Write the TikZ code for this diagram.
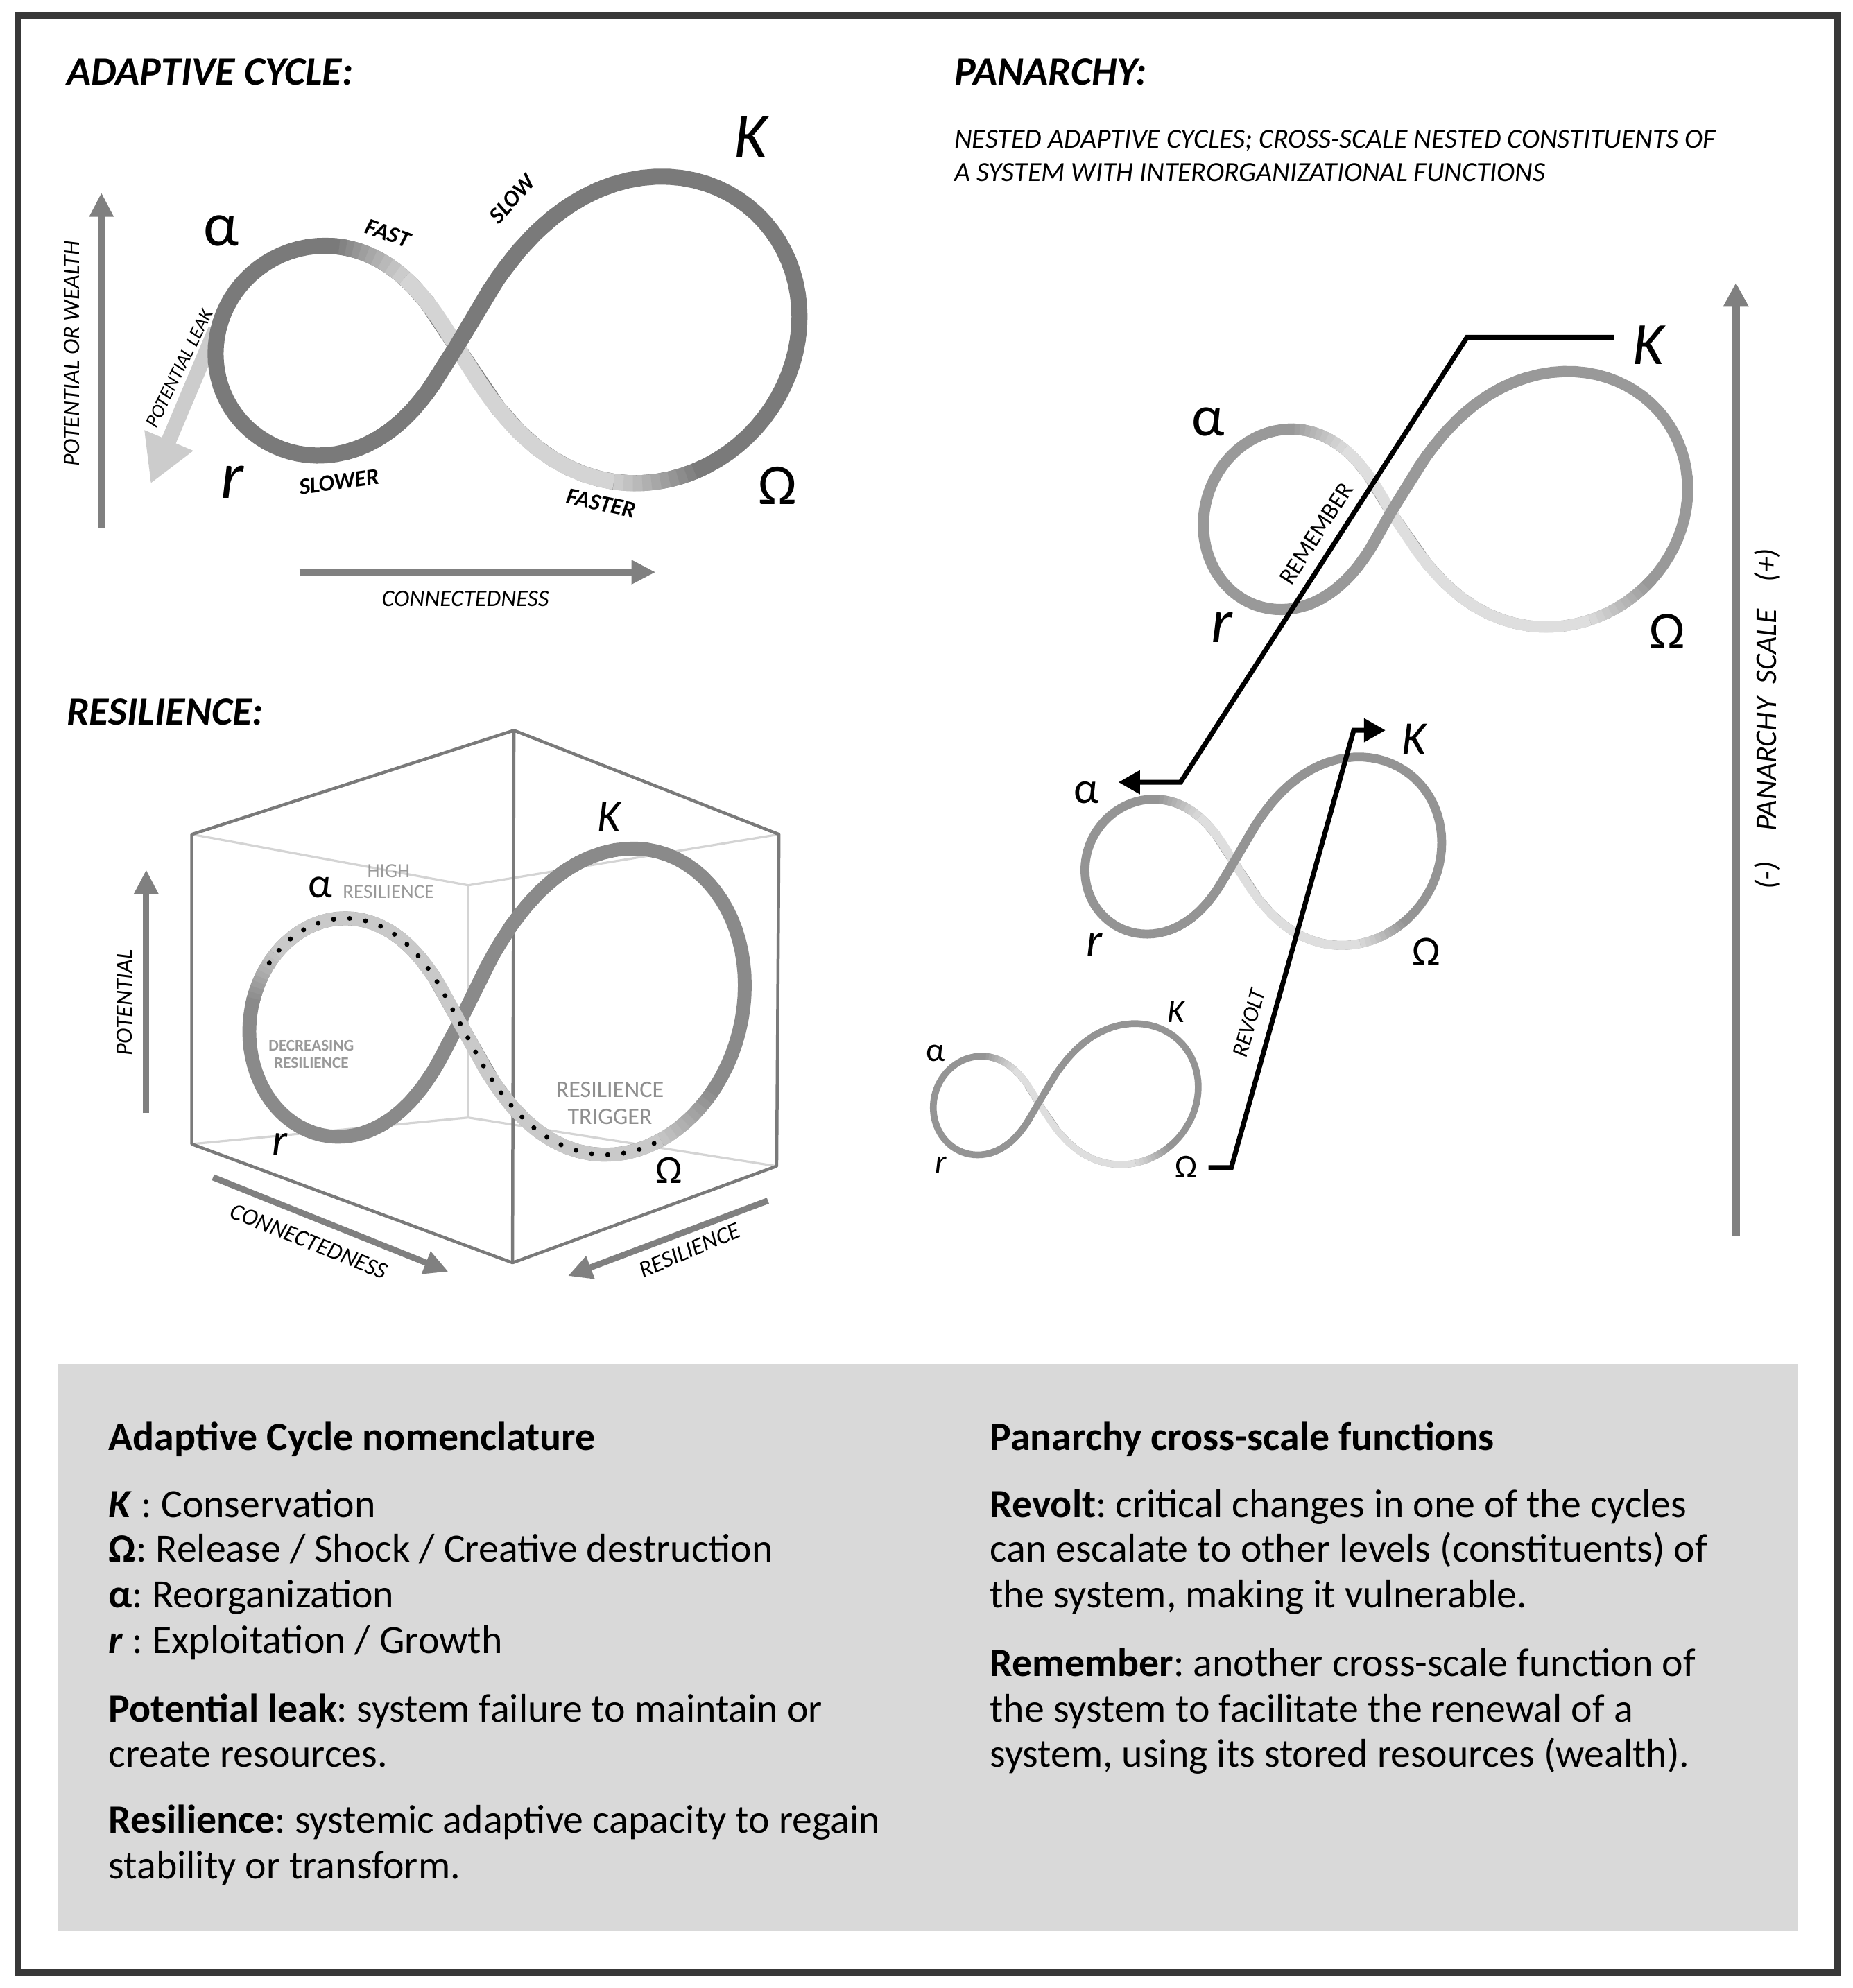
\documentclass[tikz,border=0pt]{standalone}
\usepackage{fontspec}
\setmainfont{Carlito}
\usetikzlibrary{arrows.meta}
\frenchspacing

% one lobe of the figure eight, the crossing at the origin
% #1 length (negative: left lobe), #2 height factor, #3 slant, #4:#5 lobe parameter
\newcommand{\lobe}[5]{plot[domain=#4:#5, variable=\ph] ({#1*sqrt(abs(cos(\ph)))*cos(2*\ph/3)}, {#1*sqrt(abs(cos(\ph)))*(#2*sin(2*\ph/3)+#3*cos(2*\ph/3))})}
\newcommand{\lobeto}[5]{-- plot[domain=#4:#5, variable=\ph] ({#1*sqrt(abs(cos(\ph)))*cos(2*\ph/3)}, {#1*sqrt(abs(cos(\ph)))*(#2*sin(2*\ph/3)+#3*cos(2*\ph/3))})}

% adaptive cycle loop: #1-#3 left lobe, #4-#6 right lobe, #7/#8 where the fast strand fades out
\newcommand{\cyclefig}[8]{%
  \draw[cdark, samples=61] \lobe{-#1}{#2}{#3}{-90}{90};
  \draw[cdark, samples=61] \lobe{#4}{#5}{#6}{-90}{90};
  \draw[clight, samples=25] \lobe{-#1}{#2}{#3}{-#7}{-90} \lobeto{#4}{#5}{#6}{-90}{-#8};
  \foreach \k in {1,...,10}{%
    \pgfmathtruncatemacro{\pct}{10*\k}%
    \pgfmathsetmacro{\fa}{-#7+2*\k-2}\pgfmathsetmacro{\fb}{-#7+2*\k+0.6}%
    \pgfmathsetmacro{\ga}{-#8+2*\k-2}\pgfmathsetmacro{\gb}{-#8+2*\k+0.6}%
    \draw[cdark!\pct!clight, samples=4] \lobe{-#1}{#2}{#3}{\fa}{\fb};
    \draw[cdark!\pct!clight, samples=4] \lobe{#4}{#5}{#6}{\ga}{\gb};
  }
  \draw[cdark, samples=13] \lobe{-#1}{#2}{#3}{66}{90} \lobeto{#4}{#5}{#6}{90}{66};
}

\tikzset{
  outerframe/.style={draw=black!78, line width=1.5pt},
  gaxis/.style={black!50, line width=1.4pt, -{Triangle[length=1.9mm,width=1.8mm]}},
  axislabel/.style={inner sep=0, font=\fontsize{5.3}{6}\selectfont\itshape},
  pace/.style={inner sep=0, font=\fontsize{5.2}{6}\selectfont\bfseries\itshape},
  stage/.style={inner sep=0, font=\fontsize{#1}{#1}\selectfont},
  heading/.style={anchor=base west, inner sep=0, font=\fontsize{9}{10}\selectfont\bfseries\itshape},
  subhead/.style={anchor=base west, inner sep=0, font=\fontsize{6.2}{7}\selectfont\itshape},
  body/.style={anchor=base west, inner sep=0, font=\fontsize{9}{10.1}\selectfont},
  crossscale/.style={black, line width=1.1pt, line join=miter, -{Triangle[length=1.7mm,width=1.8mm]}},
  cubeedge/.style={black!52, line width=0.7pt, line join=round},
  cubeback/.style={black!17, line width=0.5pt},
  resnote/.style={inner sep=0, align=center, text=black!40}
}

\begin{document}
\begin{tikzpicture}
\useasboundingbox (0,0) rectangle (14.61,15.68);
\draw[outerframe] (0.14,0.12) rectangle (14.49,15.56);
\fill[black!15] (0.46,0.45) rectangle (14.18,4.92);

% headings
\node[heading] (adhead) at (0.52,15.01) {ADAPTIVE CYCLE:};
\node[heading] (panhead) at (7.52,15.01) {PANARCHY:};
\node[subhead] (pansub1) at (7.52,14.51) {NESTED ADAPTIVE CYCLES; CROSS-SCALE NESTED CONSTITUENTS OF};
\node[subhead] (pansub2) at (7.52,14.25) {A SYSTEM WITH INTERORGANIZATIONAL FUNCTIONS};
\node[heading] (reshead) at (0.52,9.96) {RESILIENCE:};

% adaptive cycle
\coordinate (potlo) at (0.80,11.52);
\coordinate (pothi) at (0.80,14.16);
\draw[gaxis] (potlo) -- (pothi);
\node[axislabel, rotate=90] (potlab) at (0.567,12.89) {POTENTIAL OR WEALTH};
\coordinate (conlo) at (2.36,11.167);
\coordinate (conhi) at (5.17,11.167);
\draw[gaxis] (conlo) -- (conhi);
\node[axislabel] (conlab) at (3.67,10.957) {CONNECTEDNESS};
\coordinate (leaktop) at (1.70,13.08);
\coordinate (leaktip) at (1.188,11.865);
\draw[black!20, line width=3.4pt, -{Triangle[length=3.7mm,width=3.9mm]}] (leaktop) -- (leaktip);
\node[inner sep=0, font=\fontsize{4.3}{5}\selectfont\itshape, rotate=64] (leaklab) at (1.415,12.775) {POTENTIAL LEAK};
\begin{scope}[shift={(3.60,12.946)}, line width=3.6pt]
  \colorlet{cdark}{black!52}\colorlet{clight}{black!17}
  \cyclefig{1.90}{0.957}{0.03}{2.705}{0.979}{0.087}{82}{66}
\end{scope}
\node[pace, rotate=-20] (fast) at (3.06,13.84) {FAST};
\node[pace, rotate=48] (slow) at (4.04,14.11) {SLOW};
\node[pace, rotate=8] (slower) at (2.676,11.88) {SLOWER};
\node[pace, rotate=-12] (faster) at (4.74,11.71) {FASTER};
\node[stage=14] (aalpha) at (1.746,13.86) {α};
\node[stage=14.5] (akappa) at (5.93,14.60) {\textit{K}};
\node[stage=15] (ar) at (1.837,11.88) {\textit{r}};
\node[stage=13] (aomega) at (6.13,11.85) {Ω};

% resilience
\coordinate (ct) at (4.053,9.919);
\coordinate (ctl) at (1.513,9.099);
\coordinate (ctr) at (6.143,9.099);
\coordinate (cbl) at (1.513,6.656);
\coordinate (cb) at (4.042,5.72);
\coordinate (cbr) at (6.125,6.482);
\coordinate (cit) at (3.693,8.697);
\coordinate (cib) at (3.693,6.865);
\draw[cubeback] (ctl) -- (cit) -- (ctr) (cit) -- (cib) (cbl) -- (cib) -- (cbr);
\draw[cubeedge] (ctl) -- (ct) -- (ctr) -- (cbr) -- (cb) -- (cbl) -- cycle (ct) -- (cb);
\begin{scope}[shift={(3.624,7.616)}, line width=3.1pt]
  \colorlet{cdark}{black!46}\colorlet{clight}{black!21}
  \cyclefig{1.658}{1.142}{0.044}{2.25}{1.173}{0.13}{30}{47}
  \draw[clight, samples=11] \lobe{-1.658}{1.142}{0.044}{-70}{-90} \lobeto{2.25}{1.173}{0.13}{-90}{-70};
  \draw[black, line width=1.1pt, line cap=round, dash pattern=on 0pt off 3.6pt, samples=41]
    \lobe{-1.658}{1.142}{0.044}{-26}{-90} \lobeto{2.25}{1.173}{0.13}{-90}{-47};
\end{scope}
\coordinate (rpotlo) at (1.153,6.90);
\coordinate (rpothi) at (1.153,8.82);
\draw[gaxis] (rpotlo) -- (rpothi);
\node[axislabel, rotate=90] (rpotlab) at (0.98,7.77) {POTENTIAL};
\coordinate (rconlo) at (1.68,6.394);
\coordinate (rconhi) at (3.536,5.65);
\draw[gaxis] (rconlo) -- (rconhi);
\node[axislabel, rotate=-22] (rconlab) at (2.437,5.888) {CONNECTEDNESS};
\coordinate (rreslo) at (6.056,6.21);
\coordinate (rreshi) at (4.479,5.616);
\draw[gaxis] (rreslo) -- (rreshi);
\node[axislabel, rotate=23] (rreslab) at (5.438,5.819) {RESILIENCE};
\node[resnote, font=\fontsize{4.5}{4.75}\selectfont] (high) at (3.065,8.728) {HIGH\\RESILIENCE};
\node[resnote, font=\fontsize{3.6}{3.95}\selectfont\bfseries] (decr) at (2.455,7.365) {DECREASING\\RESILIENCE};
\node[resnote, text=black!44, font=\fontsize{5.3}{6}\selectfont] (trig) at (4.81,6.977) {RESILIENCE\\TRIGGER};
\node[stage=9.5] (ralpha) at (2.525,8.68) {α};
\node[stage=10] (rkappa) at (4.81,9.238) {\textit{K}};
\node[stage=10] (rr) at (2.21,6.656) {\textit{r}};
\node[stage=9] (romega) at (5.274,6.447) {Ω};

% panarchy
\begin{scope}[shift={(10.97,11.64)}, line width=2.5pt]
  \colorlet{cdark}{black!40}\colorlet{clight}{black!13}
  \cyclefig{1.48}{1.055}{0.068}{2.34}{0.944}{0.078}{80}{50}
\end{scope}
\begin{scope}[shift={(9.73,8.88)}, line width=2pt]
  \colorlet{cdark}{black!42}\colorlet{clight}{black!13}
  \cyclefig{1.174}{0.995}{0.054}{1.64}{0.992}{0.094}{81}{55}
\end{scope}
\begin{scope}[shift={(8.19,6.98)}, line width=1.5pt]
  \colorlet{cdark}{black!42}\colorlet{clight}{black!13}
  \cyclefig{0.83}{1.03}{0.043}{1.26}{0.965}{0.1}{81}{55}
\end{scope}
\node[stage=13] (balpha) at (9.53,12.35) {α};
\node[stage=13.5] (bkappa) at (13.01,12.96) {\textit{K}};
\node[stage=14] (br) at (9.64,10.73) {\textit{r}};
\node[stage=12] (bomega) at (13.15,10.70) {Ω};
\node[stage=10] (malpha) at (8.57,9.43) {α};
\node[stage=10.5] (mkappa) at (11.16,9.85) {\textit{K}};
\node[stage=10.5] (mr) at (8.63,8.23) {\textit{r}};
\node[stage=9.5] (momega) at (11.25,8.17) {Ω};
\node[stage=7.5] (salpha) at (7.38,7.37) {α};
\node[stage=7.5] (skappa) at (9.28,7.70) {\textit{K}};
\node[stage=7.5] (sr) at (7.42,6.49) {\textit{r}};
\node[stage=7.5] (somega) at (9.357,6.474) {Ω};

\coordinate (remstart) at (12.73,13.02);
\coordinate (remknee) at (11.57,13.02);
\coordinate (remfoot) at (9.31,9.51);
\coordinate (remend) at (8.82,9.51);
\draw[crossscale] (remstart) -- (remknee) -- (remfoot) -- (remend);
\node[inner sep=0, font=\fontsize{5.4}{6}\selectfont, rotate=57.3] (remlab) at (10.38,11.47) {REMEMBER};
\coordinate (revstart) at (9.53,6.47);
\coordinate (revfoot) at (9.71,6.47);
\coordinate (revknee) at (10.676,9.92);
\coordinate (revend) at (10.927,9.92);
\draw[crossscale] (revstart) -- (revfoot) -- (revknee) -- (revend);
\node[inner sep=0, font=\fontsize{5.1}{6}\selectfont\itshape, rotate=74.4] (revlab) at (9.85,7.61) {REVOLT};

\coordinate (scalelo) at (13.69,5.93);
\coordinate (scalehi) at (13.69,13.45);
\draw[black!50, line width=1.7pt, -{Triangle[length=1.9mm,width=1.9mm]}] (scalelo) -- (scalehi);
\node[inner sep=0, font=\fontsize{6.8}{7}\selectfont\itshape, rotate=90] (scalelab) at (13.94,10.01)
  {(-)\hspace{1em}PANARCHY\hspace{0.45em}SCALE\hspace{0.9em}(+)};

% nomenclature
\node[body] (nom1) at (0.85,4.24) {\textbf{Adaptive Cycle nomenclature}};
\node[body] (nom2) at (0.85,3.71) {\textbf{\textit{K}} : Conservation};
\node[body] (nom3) at (0.85,3.36) {\textbf{Ω}: Release / Shock / Creative destruction};
\node[body] (nom4) at (0.85,3.00) {\textbf{α}: Reorganization};
\node[body] (nom5) at (0.85,2.64) {\textbf{\textit{r}} : Exploitation / Growth};
\node[body] (nom6) at (0.85,2.10) {\textbf{Potential leak}: system failure to maintain or};
\node[body] (nom7) at (0.85,1.74) {create resources.};
\node[body] (nom8) at (0.85,1.22) {\textbf{Resilience}: systemic adaptive capacity to regain};
\node[body] (nom9) at (0.85,0.86) {stability or transform.};
\node[body] (fun1) at (7.80,4.24) {\textbf{Panarchy cross-scale functions}};
\node[body] (fun2) at (7.80,3.71) {\textbf{Revolt}: critical changes in one of the cycles};
\node[body] (fun3) at (7.80,3.36) {can escalate to other levels (constituents) of};
\node[body] (fun4) at (7.80,3.00) {the system, making it vulnerable.};
\node[body] (fun5) at (7.80,2.46) {\textbf{Remember}: another cross-scale function of};
\node[body] (fun6) at (7.80,2.10) {the system to facilitate the renewal of a};
\node[body] (fun7) at (7.80,1.74) {system, using its stored resources (wealth).};
\end{tikzpicture}
\end{document}
